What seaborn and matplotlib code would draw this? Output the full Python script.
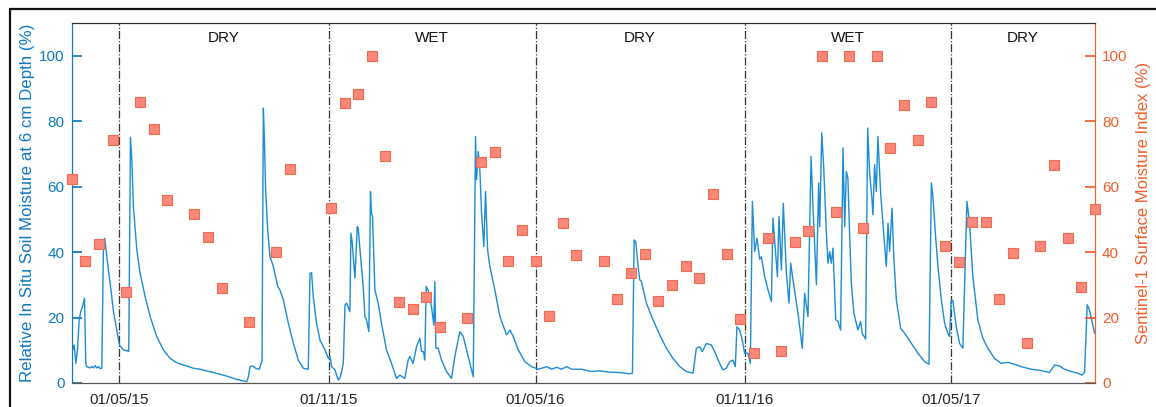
import matplotlib
matplotlib.use("Agg")
import matplotlib.pyplot as plt
import matplotlib.dates as mdates
from matplotlib.lines import Line2D
import pandas as pd
import seaborn as sns

# in situ soil moisture (days after 01/05/2015, % relative)
soil_day = [-42.0, -41.0, -39.8, -38.3, -36.9, -35.4, -34.0, -32.5, -30.7, -29.6, -28.7, -25.8, -24.3, -22.8,
            -21.4, -19.9, -18.4, -17.0, -15.5, -14.0, -12.9, -11.1, -8.2, -5.2, -2.3, 0.0, 3.5, 6.5, 8.2, 9.7,
            10.9, 12.3, 15.3, 18.2, 22.6, 27.0, 32.8, 38.7, 44.6, 50.4, 56.3, 65.1, 70.9, 82.6, 94.4, 103.2,
            112.0, 113.4, 114.9, 117.2, 120.2, 123.1, 124.5, 125.4, 126.6, 127.5, 128.6, 130.4, 132.4, 135.4,
            139.2, 141.2, 144.2, 148.6, 153.0, 157.3, 161.7, 166.1, 167.6, 169.0, 170.5, 173.4, 176.4, 180.8,
            183.7, 185.2, 186.6, 189.6, 192.4, 193.9, 195.4, 196.9, 198.4, 199.8, 202.7, 203.6, 204.8, 207.1,
            209.2, 210.0, 212.1, 214.4, 215.9, 217.3, 219.4, 220.8, 221.7, 222.6, 224.7, 227.6, 230.5, 234.9,
            239.3, 243.7, 246.6, 251.0, 253.9, 255.4, 258.3, 261.3, 264.2, 265.7, 267.4, 268.6, 269.8, 271.5,
            274.5, 276.5, 277.4, 278.3, 280.3, 283.3, 287.7, 292.1, 295.0, 297.9, 299.4, 302.4, 306.8, 311.2,
            313.2, 314.1, 315.6, 317.0, 318.5, 320.5, 322.0, 323.8, 325.8, 330.2, 334.6, 340.5, 343.4, 346.4,
            350.8, 356.6, 362.5, 368.3, 371.3, 375.7, 380.1, 384.5, 388.9, 393.3, 397.7, 406.5, 415.2, 422.5,
            431.3, 440.1, 448.9, 451.2, 452.7, 454.1, 456.2, 457.6, 459.1, 463.5, 469.3, 475.2, 481.1, 486.9,
            492.8, 498.6, 504.5, 507.4, 510.3, 512.7, 516.2, 520.6, 523.5, 527.9, 530.8, 533.8, 536.7, 539.6,
            541.7, 543.1, 545.5, 547.8, 549.9, 551.4, 552.8, 554.9, 556.7, 558.7, 560.8, 563.1, 564.6, 567.5,
            570.5, 573.4, 574.8, 578.7, 580.1, 582.2, 583.9, 586.6, 588.9, 590.4, 592.4, 596.8, 600.6, 602.7,
            605.6, 608.3, 610.0, 613.0, 615.0, 615.9, 617.7, 619.4, 621.8, 623.2, 624.7, 626.1, 627.6, 630.0,
            632.0, 634.3, 636.4, 637.9, 639.3, 640.7, 642.2, 643.7, 646.0, 649.5, 651.9, 653.3, 656.3, 658.1,
            659.8, 661.9, 662.7, 664.2, 665.7, 667.1, 669.5, 671.5, 674.5, 676.0, 677.4, 679.5, 681.2, 683.3,
            687.1, 690.6, 696.5, 702.3, 708.2, 712.0, 714.1, 715.5, 717.6, 719.9, 722.9, 725.8, 728.6, 730.1,
            731.6, 733.0, 736.0, 738.9, 741.8, 745.4, 747.7, 750.6, 755.0, 759.4, 763.8, 769.7, 775.5, 781.4,
            787.3, 793.1, 801.9, 810.7, 818.0, 822.4, 826.8, 831.2, 837.1, 843.0, 846.5, 848.8, 851.2, 853.2,
            857.6]
soil_val = [11.0, 10.1, 11.6, 6.0, 10.1, 19.3, 21.8, 23.3, 25.9, 6.0, 5.0, 4.6, 5.0, 4.6,
            5.3, 4.6, 5.0, 4.4, 4.5, 43.7, 44.2, 38.6, 30.5, 21.8, 16.2, 11.6, 10.1, 9.9, 9.6, 75.1,
            68.2, 53.9, 40.7, 33.5, 26.4, 20.3, 14.2, 10.1, 7.5, 6.2, 5.5, 4.5, 4.2, 3.2, 2.1, 1.1,
            0.4, 1.9, 5.0, 5.2, 4.4, 4.2, 6.0, 6.5, 84.0, 74.3, 59.0, 46.8, 38.6, 35.6,
            29.5, 28.4, 25.4, 18.2, 12.1, 7.0, 4.5, 4.2, 33.5, 33.7, 26.4, 18.2, 13.1, 10.1,
            7.5, 8.1, 5.0, 4.0, 0.9, 1.4, 3.5, 6.0, 23.9, 24.4, 21.8, 45.8, 42.7, 32.0,
            47.8, 47.3, 38.6, 29.5, 20.3, 19.3, 15.7, 58.5, 51.9, 50.9, 28.4, 24.4, 18.2, 10.1,
            6.0, 1.4, 2.4, 1.4, 7.0, 8.1, 6.0, 11.1, 13.7, 9.6, 9.6, 7.0, 29.5, 28.4,
            23.3, 17.7, 31.0, 10.6, 10.6, 7.0, 3.5, 1.4, 8.1, 13.1, 15.7, 14.2, 8.1, 1.9,
            75.3, 62.1, 70.7, 65.1, 51.9, 41.7, 58.5, 40.7, 35.6, 28.4, 20.3, 14.7, 16.2, 14.2,
            10.1, 6.5, 5.0, 4.2, 4.5, 5.0, 4.2, 4.8, 4.2, 5.0, 4.2, 4.2, 3.5, 3.7,
            3.3, 3.2, 2.8, 3.0, 43.7, 43.2, 35.6, 31.5, 31.0, 24.4, 19.3, 14.7, 10.6, 7.5,
            5.0, 3.5, 3.0, 10.6, 11.1, 9.6, 12.1, 11.6, 9.6, 6.0, 4.0, 4.5, 6.5, 7.0,
            5.0, 17.2, 16.2, 13.1, 9.1, 9.1, 9.1, 6.0, 55.5, 40.2, 44.2, 37.8, 38.6, 32.5,
            28.4, 24.9, 50.4, 32.5, 50.9, 34.6, 54.9, 33.5, 24.4, 36.6, 31.5, 21.3, 10.6, 27.4,
            20.3, 69.2, 53.9, 30.0, 61.1, 47.8, 76.4, 66.2, 45.8, 36.6, 40.2, 36.6, 41.2, 19.3,
            18.8, 16.2, 71.8, 47.8, 64.6, 62.6, 45.8, 30.5, 21.3, 16.2, 18.8, 15.2, 13.4, 77.9,
            64.1, 56.0, 51.4, 66.7, 58.5, 75.3, 58.0, 48.8, 35.6, 48.8, 40.2, 53.4, 37.6, 25.4,
            16.7, 15.2, 12.1, 9.1, 6.5, 5.7, 61.1, 57.0, 45.8, 35.6, 25.4, 18.2, 15.2, 14.2,
            25.4, 25.2, 17.2, 12.1, 10.6, 55.5, 48.8, 32.5, 19.3, 13.7, 10.6, 7.5, 6.0, 6.3,
            5.7, 5.0, 4.2, 3.8, 3.2, 5.5, 5.2, 4.2, 3.5, 3.0, 2.4, 3.2, 23.9, 22.3,
            15.2]

# Sentinel-1 surface moisture index
s1_date = ["2015-03-20", "2015-04-01", "2015-04-13", "2015-04-25", "2015-05-07", "2015-05-19", "2015-05-31",
           "2015-06-12", "2015-07-06", "2015-07-18", "2015-07-30", "2015-08-23", "2015-09-16", "2015-09-28",
           "2015-11-03", "2015-11-15", "2015-11-27", "2015-12-09", "2015-12-21", "2016-01-02", "2016-01-14",
           "2016-01-26", "2016-02-07", "2016-03-02", "2016-03-14", "2016-03-26", "2016-04-07", "2016-04-19",
           "2016-05-01", "2016-05-13", "2016-05-25", "2016-06-06", "2016-06-30", "2016-07-12", "2016-07-24",
           "2016-08-05", "2016-08-17", "2016-08-29", "2016-09-10", "2016-09-22", "2016-10-04", "2016-10-16",
           "2016-10-28", "2016-11-09", "2016-11-21", "2016-12-03", "2016-12-15", "2016-12-27", "2017-01-08",
           "2017-01-20", "2017-02-01", "2017-02-13", "2017-02-25", "2017-03-09", "2017-03-21", "2017-04-02",
           "2017-04-14", "2017-04-26", "2017-05-08", "2017-05-20", "2017-06-01", "2017-06-13", "2017-06-25",
           "2017-07-07", "2017-07-19", "2017-07-31", "2017-08-12", "2017-08-24", "2017-09-05"]
s1_val = [62.3, 37.3, 42.5, 74.2, 27.8, 86.0, 77.7,
          56.0, 51.5, 44.5, 29.1, 18.5, 40.0, 65.4,
          53.4, 85.5, 88.4, 100.0, 69.4, 24.6, 22.7,
          26.3, 17.2, 19.8, 67.4, 70.6, 37.3, 46.6,
          37.3, 20.5, 48.9, 39.1, 37.3, 25.7, 33.5,
          39.4, 25.2, 30.0, 35.7, 32.1, 57.6, 39.4,
          19.6, 9.2, 44.2, 9.7, 43.0, 46.3, 100.0,
          52.2, 100.0, 47.5, 100.0, 71.8, 85.0, 74.4,
          85.9, 41.8, 37.0, 49.3, 49.3, 25.7, 39.7,
          12.2, 42.0, 66.6, 44.4, 29.3, 53.1]

season_breaks = ["2015-05-01", "2015-11-01", "2016-05-01", "2016-11-01", "2017-05-01"]
season_names = ["DRY", "WET", "DRY", "WET", "DRY"]
x_start, x_end = "2015-03-20", "2017-09-05"

blue = "#0E78C2"
line_blue = "#1C8CD3"
orange = "#EE5E2A"

soil = pd.DataFrame({
    "date": pd.Timestamp("2015-05-01") + pd.to_timedelta(soil_day, unit="D"),
    "moisture": soil_val,
})
s1 = pd.DataFrame({"date": pd.to_datetime(s1_date), "index": s1_val})

sns.set_theme(style="white")
plt.rcParams["font.family"] = ["Liberation Sans", "DejaVu Sans"]

fig = plt.figure(figsize=(11.56, 4.07), dpi=100)
ax = fig.add_axes([0.062, 0.059, 0.8852, 0.8845])
ax2 = ax.twinx()

sns.lineplot(data=soil, x="date", y="moisture", ax=ax, color=line_blue, linewidth=1.0,
             estimator=None, sort=False)
sns.scatterplot(data=s1, x="date", y="index", ax=ax2, marker="s", s=46,
                color="#F9877A", edgecolor="#F36A50", linewidth=0.8, clip_on=False, zorder=5)

xmin, xmax = pd.Timestamp(x_start), pd.Timestamp(x_end)
for a in (ax, ax2):
    a.set_xlim(xmin, xmax)
    a.set_ylim(0, 110)
    a.set_yticks([0, 20, 40, 60, 80, 100])

# season boundaries and labels
bounds = [pd.Timestamp(d) for d in season_breaks] + [xmax]
for b in bounds[:-1]:
    ax.axvline(b, color="#333333", linestyle="-.", linewidth=0.9, zorder=1)
for name, lo, hi in zip(season_names, bounds[:-1], bounds[1:]):
    ax.text(lo + (hi - lo) / 2, 105.5, name, ha="center", va="center", fontsize=11, color="#111111")

ax.xaxis.set_major_locator(mdates.MonthLocator(bymonth=[5, 11], bymonthday=1))
ax.xaxis.set_major_formatter(mdates.DateFormatter("%d/%m/%y"))
ax.tick_params(axis="x", direction="in", length=5, pad=7, labelsize=11, colors="#222222")
ax.tick_params(axis="y", direction="in", length=7, pad=5, labelsize=11, colors=blue)
ax2.tick_params(axis="y", direction="in", length=7, pad=5, labelsize=11, colors=orange)

ax.set_xlabel("")
ax.set_ylabel("Relative In Situ Soil Moisture at 6 cm Depth (%)", fontsize=12.2, color=blue, labelpad=3)
ax2.set_xlabel("")
ax2.set_ylabel("Sentinel-1 Surface Moisture Index (%)", fontsize=12, color=orange, labelpad=6)

for a in (ax, ax2):
    a.spines["top"].set_color("#333333")
    a.spines["bottom"].set_color("#555555")
    a.spines["left"].set_color(blue)
    a.spines["right"].set_color(orange)
    for sp in a.spines.values():
        sp.set_linewidth(0.8)

# outer frame
fig.add_artist(Line2D([0.0087, 0.0087], [0.0, 0.9767], color="#111111", linewidth=1.6))
fig.add_artist(Line2D([0.0087, 1.0], [0.9767, 0.9767], color="#111111", linewidth=1.6))

fig.savefig("out.png", dpi=100)
